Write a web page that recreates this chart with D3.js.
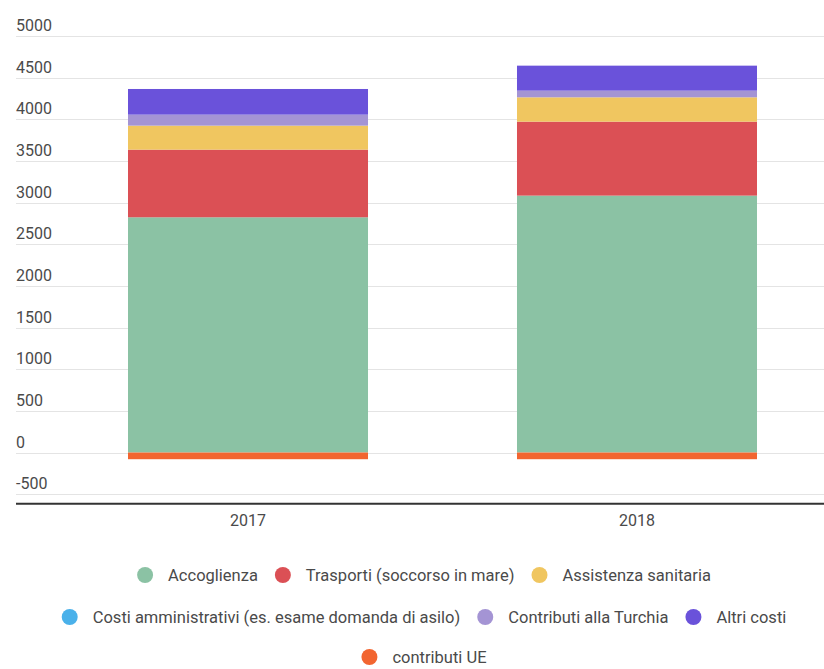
<!DOCTYPE html>
<html>
<head>
<meta charset="utf-8">
<script src="https://cdn.jsdelivr.net/npm/d3@7"></script>
<style>
  body { margin: 0; background: #fff; }
  svg text { font-family: Roboto, "Noto Sans", sans-serif; fill: #4a4a4a; }
</style>
</head>
<body>
<div id="chart"></div>
<script>
// categories (years)
var years = ['2017', '2018']
// series, bottom to top of the stack
var seriesNames = [
    'Accoglienza',
    'Trasporti (soccorso in mare)',
    'Assistenza sanitaria',
    'Costi amministrativi (es. esame domanda di asilo)',
    'Contributi alla Turchia',
    'Altri costi',
    'contributi UE'
]
var seriesColors = ['#8bc2a4', '#db5055', '#f0c660', '#4ab1ea', '#a494d4', '#6a52da', '#f26530']
// values in millions of euro, one per year
var accoglienza = [2824, 3084]
var trasporti = [812, 888]
var assistenza = [288, 292]
var costiAmm = [0, 0]
var turchia = [132, 80]
var altri = [308, 300]
var contributiUE = [-80, -80]
var yTicks = [-500, 0, 500, 1000, 1500, 2000, 2500, 3000, 3500, 4000, 4500, 5000]

var width = 824, height = 669

// build table rows for d3.stack
var table = years.map((y, i) => {
    var row = {year: y}
    row[seriesNames[0]] = accoglienza[i]
    row[seriesNames[1]] = trasporti[i]
    row[seriesNames[2]] = assistenza[i]
    row[seriesNames[3]] = costiAmm[i]
    row[seriesNames[4]] = turchia[i]
    row[seriesNames[5]] = altri[i]
    row[seriesNames[6]] = contributiUE[i]
    return row
})

var stack = d3.stack()
    .keys(seriesNames)
    .offset(d3.stackOffsetDiverging)
var stacked = stack(table)

var color = d3.scaleOrdinal().domain(seriesNames).range(seriesColors)

var x = d3.scaleBand()
    .domain(years)
    .range([128, 757])
    .paddingInner(0.383)
    .paddingOuter(0)

var y = d3.scaleLinear()
    .domain([-500, 5000])
    .range([494.2, 36])

var svg = d3.select('#chart')
    .append('svg')
    .attr('width', width)
    .attr('height', height)

//Gridlines and y labels
var grid = svg.append('g').attr('id', 'grid')
grid.selectAll('line')
    .data(yTicks)
    .enter()
    .append('line')
    .attr('x1', 16)
    .attr('x2', width)
    .attr('y1', d => Math.round(y(d)) + 0.5)
    .attr('y2', d => Math.round(y(d)) + 0.5)
    .attr('stroke', '#e4e4e4')
    .attr('stroke-width', 1)

grid.selectAll('text')
    .data(yTicks)
    .enter()
    .append('text')
    .attr('x', 16)
    .attr('y', d => y(d) - 5)
    .attr('font-size', 16)
    .text(d => d)

//Bars
var layers = svg.append('g').attr('id', 'bars')
    .selectAll('g')
    .data(stacked)
    .enter()
    .append('g')
    .attr('fill', d => color(d.key))

layers.selectAll('rect')
    .data(d => d)
    .enter()
    .append('rect')
    .attr('x', d => x(d.data.year))
    .attr('width', x.bandwidth())
    .attr('y', d => y(Math.max(d[0], d[1])))
    .attr('height', d => Math.abs(y(d[0]) - y(d[1])))

//Bottom axis line
svg.append('line')
    .attr('x1', 16)
    .attr('x2', width)
    .attr('y1', y(-500) + 9.5)
    .attr('y2', y(-500) + 9.5)
    .attr('stroke', '#333')
    .attr('stroke-width', 2)

var xAxis = d3.axisBottom(x).tickSize(0).tickPadding(0)
var xg = svg.append('g')
    .attr('transform', `translate(0,${y(-500) + 32})`)
    .call(xAxis)
xg.select('.domain').remove()
xg.selectAll('text')
    .attr('font-size', 16)
    .attr('font-family', 'Roboto, sans-serif')
    .attr('dy', 0)
    .attr('fill', '#4a4a4a')

//Legend, wrapped into centered rows
var legendRowsY = [575, 617, 657]
var maxRowWidth = 780
var legend = svg.append('g').attr('id', 'legend')
var items = seriesNames.map(name => {
    var g = legend.append('g')
    g.append('circle').attr('r', 8).attr('cx', 8).attr('fill', color(name))
    var t = g.append('text')
        .attr('x', 31)
        .attr('dy', '0.35em')
        .attr('font-size', 16.5)
        .text(name)
    return {g: g, w: 31 + t.node().getComputedTextLength()}
})

var rows = [[]], rowW = [0], gap = 17
items.forEach(it => {
    var r = rows.length - 1
    var add = (rows[r].length ? gap : 0) + it.w
    if (rows[r].length && rowW[r] + add > maxRowWidth) {
        rows.push([it]); rowW.push(it.w)
    } else {
        rows[r].push(it); rowW[r] += add
    }
})
rows.forEach((row, r) => {
    var cx = 424 - rowW[r] / 2
    row.forEach(it => {
        it.g.attr('transform', `translate(${cx},${legendRowsY[r]})`)
        cx += it.w + gap
    })
})
</script>
</body>
</html>
